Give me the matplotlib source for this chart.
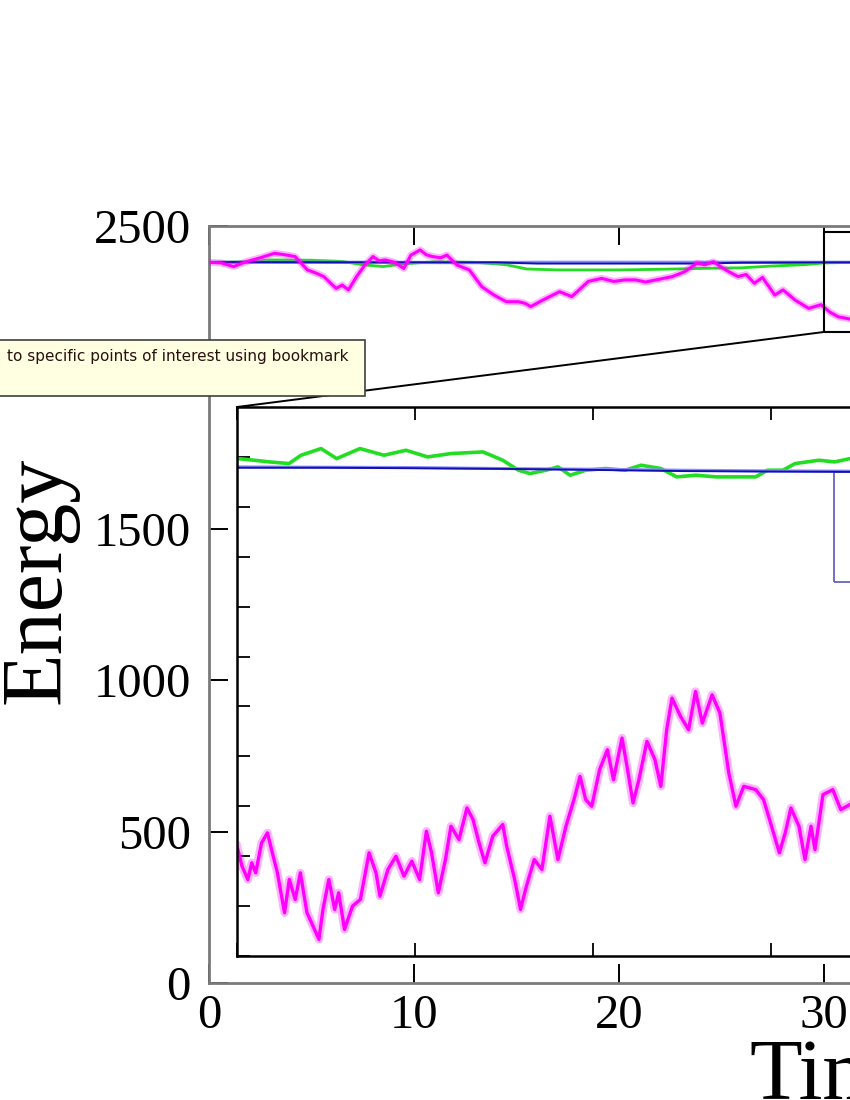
import numpy as np
import matplotlib
matplotlib.use('Agg')
import matplotlib.pyplot as plt
from matplotlib.patches import Rectangle, ConnectionPatch

plt.rcParams['font.family'] = ['Liberation Serif', 'DejaVu Serif']

# ---- data ----
# main panel, time axis
main_t = [0.0, 0.6, 1.2, 1.8, 2.5, 3.2, 3.7, 4.2, 4.8, 5.2, 5.6, 6.2, 6.5, 6.8, 7.2,
          7.6, 8.0, 8.3, 8.6, 9.05, 9.5, 9.85, 10.3, 10.6, 10.9, 11.3, 11.6, 12.1, 12.7,
          13.3, 13.9, 14.5, 15.1, 15.4, 15.7, 16.3, 17.1, 17.7, 18.5, 19.15, 19.75, 20.3,
          20.8, 21.3, 21.8, 22.6, 23.2, 23.8, 24.2, 24.6, 25.2, 25.8, 26.2, 26.6, 27.0,
          27.6, 28.0, 28.6, 29.25, 29.85, 30.3, 30.7, 31.1, 31.6]
main_magenta = [2380, 2378, 2366, 2382, 2395, 2410, 2405, 2399, 2355, 2345, 2333, 2294, 2305,
                2289, 2333, 2371, 2399, 2385, 2388, 2380, 2360, 2404, 2421, 2405, 2399, 2395,
                2404, 2371, 2355, 2300, 2272, 2250, 2250, 2245, 2234, 2256, 2283, 2267, 2317,
                2327, 2317, 2322, 2322, 2315, 2322, 2333, 2349, 2377, 2372, 2382, 2355, 2333,
                2340, 2311, 2330, 2272, 2289, 2255, 2228, 2240, 2215, 2200, 2195, 2188]

main_green_t = [0, 2, 3, 5, 6.5, 7.5, 8.5, 9.5, 11, 13, 14.5, 15.5, 17, 20, 22, 24, 26,
                27.5, 29, 30, 31.6]
main_green = [2380, 2382, 2388, 2387, 2383, 2372, 2366, 2375, 2382, 2380, 2372, 2358, 2355,
              2355, 2357, 2360, 2362, 2368, 2372, 2378, 2380]

main_blue_t = [0, 8, 14, 16, 24, 26, 31.6]
main_blue = [2381, 2380, 2380, 2376, 2376, 2379, 2380]
main_lblue = [2380, 2380, 2379, 2380, 2380, 2380, 2380]

# zoomed region (inset)
zoom_x = (30, 36)
zoom_y = (2150, 2480)
sub_box_x = (33.354, 34.5)
sub_box_y = (2375, 2441)

ins_t = [30.000, 30.028, 30.061, 30.083, 30.105, 30.138, 30.171, 30.194, 30.227, 30.267,
         30.294, 30.327, 30.356, 30.393, 30.427, 30.460, 30.483, 30.516, 30.549, 30.571,
         30.604, 30.649, 30.693, 30.742, 30.781, 30.803, 30.848, 30.893, 30.938, 30.982,
         31.026, 31.064, 31.093, 31.131, 31.171, 31.202, 31.247, 31.292, 31.326, 31.360,
         31.393, 31.437, 31.493, 31.515, 31.560, 31.593, 31.626, 31.670, 31.713, 31.758,
         31.803, 31.848, 31.893, 31.927, 31.959, 31.993, 32.037, 32.081, 32.115, 32.163,
         32.191, 32.225, 32.258, 32.303, 32.348, 32.381, 32.414, 32.444, 32.492, 32.537,
         32.576, 32.614, 32.669, 32.713, 32.763, 32.803, 32.847, 32.914, 32.958, 32.992,
         33.047, 33.080, 33.112, 33.157, 33.191, 33.225, 33.247, 33.292, 33.347, 33.392,
         33.443]
ins_magenta = [2216, 2204, 2196, 2206, 2200, 2218, 2224, 2214, 2200, 2176,
               2196, 2184, 2200, 2176, 2168, 2160, 2178, 2196, 2178, 2188,
               2166, 2180, 2184, 2212, 2200, 2186, 2202, 2210, 2198, 2207,
               2196, 2225, 2212, 2188, 2208, 2228, 2220, 2239, 2232, 2218,
               2206, 2222, 2229, 2216, 2196, 2178, 2192, 2208, 2202, 2234,
               2208, 2228, 2244, 2258, 2244, 2240, 2262, 2274, 2256, 2281,
               2264, 2242, 2256, 2279, 2268, 2252, 2286, 2305, 2294, 2286,
               2309, 2290, 2307, 2296, 2260, 2240, 2252, 2250, 2244, 2232,
               2212, 2224, 2239, 2228, 2208, 2228, 2214, 2247, 2250, 2238,
               2241]

ins_green_t = [30.006, 30.094, 30.183, 30.292, 30.360, 30.472, 30.560, 30.691, 30.826,
               30.949, 31.071, 31.202, 31.382, 31.493, 31.581, 31.646, 31.736, 31.803,
               31.871, 31.959, 32.070, 32.180, 32.270, 32.382, 32.470, 32.579, 32.691,
               32.803, 32.914, 32.980, 33.067, 33.135, 33.270, 33.358, 33.444]
ins_green = [2449, 2448, 2447, 2446, 2451, 2455, 2449, 2455, 2451, 2454, 2450, 2452, 2453,
             2448, 2442, 2440, 2442, 2444, 2439, 2442, 2443, 2442, 2445, 2443, 2438, 2439,
             2438, 2438, 2438, 2442, 2442, 2446, 2448, 2447, 2449]

ins_blue_t = [30.0, 30.5, 31.0, 31.5, 32.0, 32.5, 33.0, 33.5, 34.0]
ins_blue = [2443.5, 2443.5, 2443.2, 2442.8, 2442.2, 2441.5, 2441.2, 2441.0, 2441.0]
ins_lblue = [2444.0, 2443.8, 2443.6, 2443.0, 2442.6, 2442.0, 2441.6, 2441.4, 2441.4]

# ---- figure ----
fig = plt.figure(figsize=(8.5, 11), dpi=100)

# main axes (runs past the right edge, like the screenshot)
ax = fig.add_axes([209 / 850, 117 / 1100, 1230 / 850, 757 / 1100])
ax.plot(main_green_t, main_green, color='#22dd22', lw=2.0, zorder=2)
ax.plot(main_blue_t, main_lblue, color='#8c8cff', lw=2.4, zorder=2)
ax.plot(main_blue_t, main_blue, color='#1010b0', lw=1.4, zorder=3)
# soft halo + line to look like the noisy trace
ax.plot(main_t, main_magenta, color='#ff00ff', lw=5, alpha=0.3, zorder=4)
ax.plot(main_t, main_magenta, color='#ff00ff', lw=2.2, zorder=4)

ax.set_xlim(0, 60)
ax.set_ylim(0, 2500)
ax.set_xticks(np.arange(0, 61, 10))
ax.set_yticks(np.arange(0, 2501, 500))
ax.tick_params(direction='in', top=True, right=True, length=13.5, width=1.4,
               color='black', labelsize=35)
ax.tick_params(axis='x', pad=8)
ax.tick_params(axis='y', pad=13)
for s in ax.spines.values():
    s.set_color('#7a7a7a')
    s.set_linewidth(2)

ax.set_xlabel('Time', fontsize=62)
ax.xaxis.set_label_coords(0.512, -0.073)
ax.set_ylabel('Energy', fontsize=62)
ax.yaxis.set_label_coords(-0.106, 0.532)

# zoom box on the main axes
ax.add_patch(Rectangle((zoom_x[0], zoom_y[0]), zoom_x[1] - zoom_x[0], zoom_y[1] - zoom_y[0],
                       fill=False, ec='black', lw=1.5, zorder=5))

# inset
axins = fig.add_axes([237 / 850, 144 / 1100, 1068 / 850, 549 / 1100])
axins.plot(ins_green_t, ins_green, color='#22dd22', lw=2.6)
axins.plot(ins_blue_t, ins_lblue, color='#8c8cff', lw=2.2)
axins.plot(ins_blue_t, ins_blue, color='#1010b0', lw=1.4)
axins.plot(ins_t, ins_magenta, color='#ff00ff', lw=6, alpha=0.3)
axins.plot(ins_t, ins_magenta, color='#ff00ff', lw=2.4)
axins.add_patch(Rectangle((sub_box_x[0], sub_box_y[0]), sub_box_x[1] - sub_box_x[0],
                          sub_box_y[1] - sub_box_y[0], fill=False, ec='#6464c0', lw=1.3))
axins.set_xlim(*zoom_x)
axins.set_ylim(*zoom_y)
axins.set_xticks(np.arange(zoom_x[0], zoom_x[1] + 1, 1))
axins.set_yticks(np.arange(zoom_y[0], zoom_y[1] + 1, 30))
axins.tick_params(direction='in', top=True, right=True, length=9.5, width=1.3,
                  labelbottom=False, labelleft=False)
for s in axins.spines.values():
    s.set_color('black')
    s.set_linewidth(1.8)

# connector from zoom box to the inset
con = ConnectionPatch(xyA=(zoom_x[0], zoom_y[0]), coordsA=ax.transData,
                      xyB=(0, 1), coordsB=axins.transAxes, color='black', lw=1.4)
fig.add_artist(con)

# browser tooltip sitting over the chart
tip = Rectangle((-0.02, 1 - 396 / 1100), 0.02 + 365 / 850, 56 / 1100,
                transform=fig.transFigure, fc='#ffffe1', ec='#404040', lw=1.2, zorder=10)
fig.add_artist(tip)
fig.text(7 / 850, 1 - 357 / 1100, 'to specific points of interest using bookmark',
         family='DejaVu Sans', fontsize=11, color='#2a1010', va='center', ha='left',
         zorder=11)

fig.savefig('out.png', dpi=100)
